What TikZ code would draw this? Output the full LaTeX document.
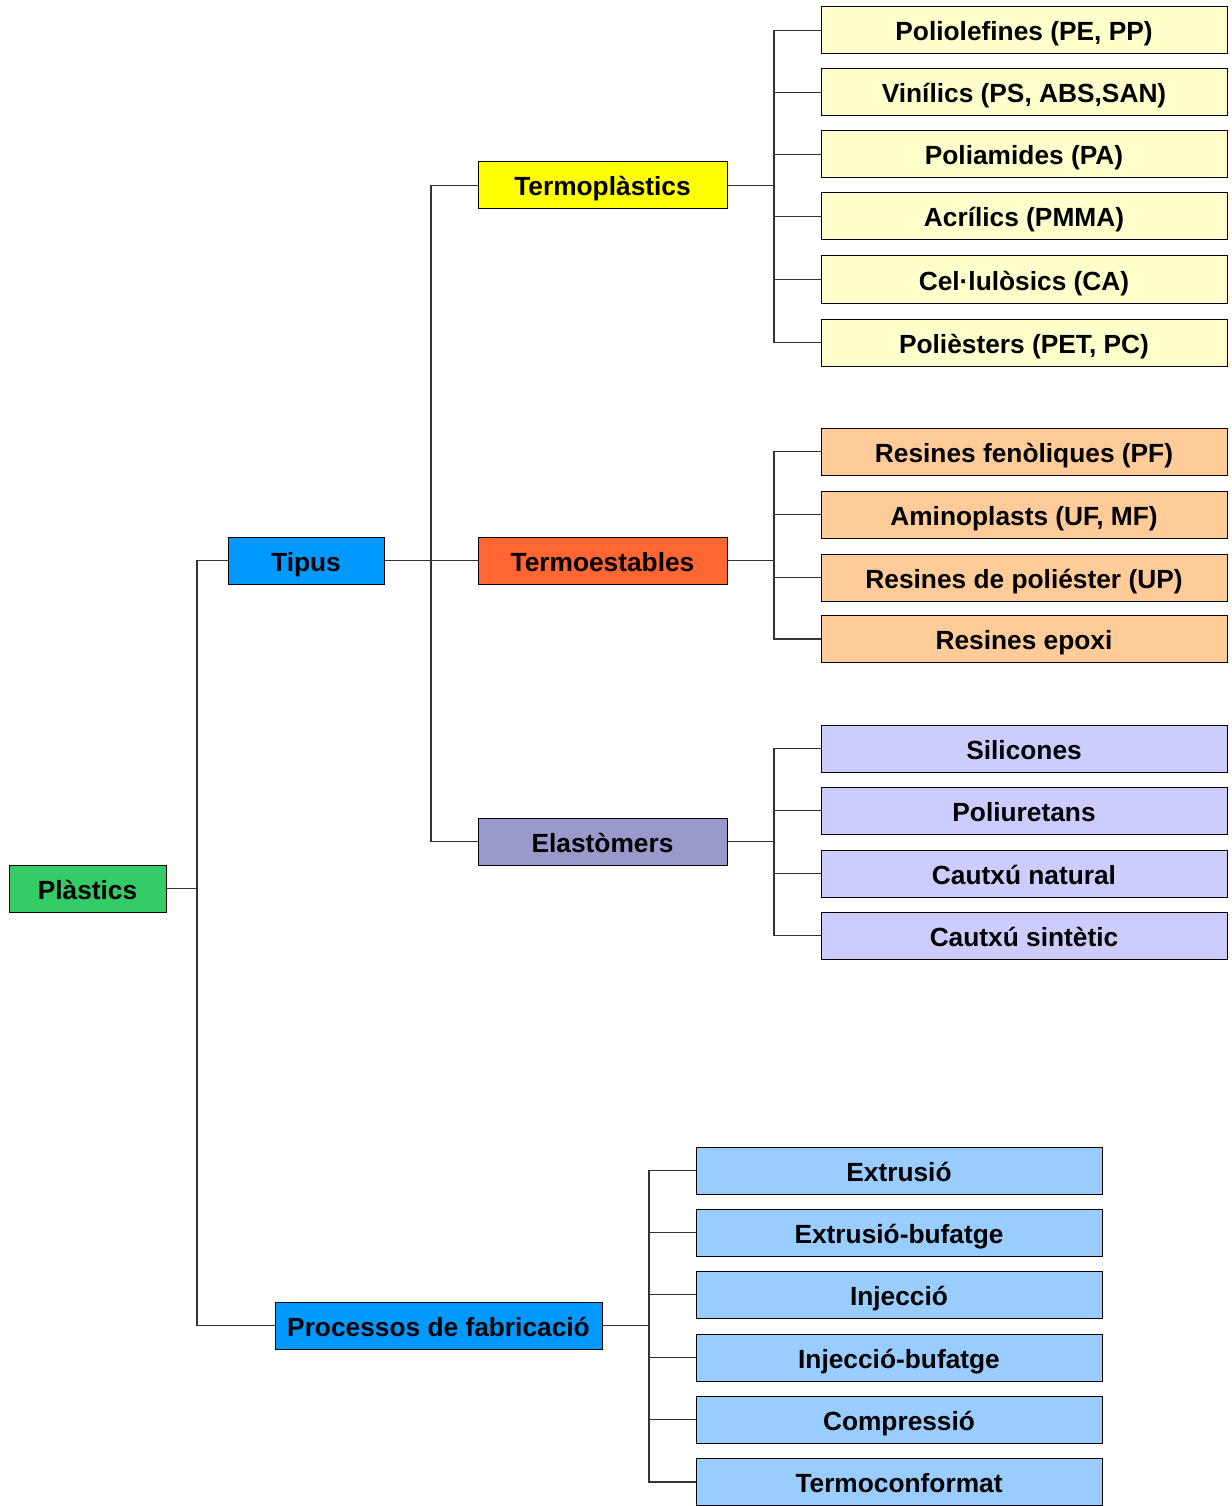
\documentclass[tikz,border=0pt]{standalone}
\usepackage{fontspec}
\setmainfont{Liberation Sans}
\definecolor{cgreen}{HTML}{33CC66}
\definecolor{cblue}{HTML}{0099FF}
\definecolor{cyellow}{HTML}{FFFF00}
\definecolor{corange}{HTML}{FF6633}
\definecolor{cviolet}{HTML}{9999CC}
\definecolor{lyellow}{HTML}{FFFFCC}
\definecolor{lpeach}{HTML}{FFCC99}
\definecolor{llav}{HTML}{CCCCFF}
\definecolor{lblue}{HTML}{99CCFF}
\definecolor{linec}{HTML}{333333}
\begin{document}
\begin{tikzpicture}[x=1pt,y=-1pt,
  box/.style={draw=black,line width=1pt,rectangle,inner sep=0pt,minimum height=47pt,
    text height=21pt,text depth=0pt,
    font=\fontsize{26.3}{30}\selectfont\bfseries,text=black},
  leaf/.style={box,minimum width=406pt},
  mid/.style={box,minimum width=249pt},
  conn/.style={draw=linec,line width=1.1pt}]
\useasboundingbox (0,0) rectangle (1231,1506);
% level 0
\node[box,fill=cgreen,minimum width=157pt] (pl) at (87.5,888.5) {Plàstics};
% level 1
\node[box,fill=cblue,minimum width=156pt] (tip) at (306,560.5) {Tipus};
\node[box,fill=cblue,minimum width=327pt] (proc) at (438.5,1325.5) {Processos de fabricació};
% level 2
\node[mid,fill=cyellow] (tpl) at (602.5,185.5) {Termoplàstics};
\node[mid,fill=corange] (tes) at (602.5,560.5) {Termoestables};
\node[mid,fill=cviolet] (ela) at (602.5,841.5) {Elastòmers};
% leaves termoplastics
\node[leaf,fill=lyellow] (a1) at (1024,30.5) {Poliolefines (PE, PP)};
\node[leaf,fill=lyellow] (a2) at (1024,92.5) {Vinílics (PS, ABS,SAN)};
\node[leaf,fill=lyellow] (a3) at (1024,154.5) {Poliamides (PA)};
\node[leaf,fill=lyellow] (a4) at (1024,216.5) {Acrílics (PMMA)};
\node[leaf,fill=lyellow] (a5) at (1024,279.5) {Cel·lulòsics (CA)};
\node[leaf,fill=lyellow] (a6) at (1024,342.5) {Polièsters (PET, PC)};
% leaves termoestables
\node[leaf,fill=lpeach] (b1) at (1024,451.5) {Resines fenòliques (PF)};
\node[leaf,fill=lpeach] (b2) at (1024,514.5) {Aminoplasts (UF, MF)};
\node[leaf,fill=lpeach] (b3) at (1024,577.5) {Resines de poliéster (UP)};
\node[leaf,fill=lpeach] (b4) at (1024,639) {Resines epoxi};
% leaves elastomers
\node[leaf,fill=llav] (c1) at (1024,748.5) {Silicones};
\node[leaf,fill=llav] (c2) at (1024,810.5) {Poliuretans};
\node[leaf,fill=llav] (c3) at (1024,873.5) {Cautxú natural};
\node[leaf,fill=llav] (c4) at (1024,935.5) {Cautxú sintètic};
% leaves processos
\node[leaf,fill=lblue] (d1) at (899,1170.5) {Extrusió};
\node[leaf,fill=lblue] (d2) at (899,1232.5) {Extrusió-bufatge};
\node[leaf,fill=lblue] (d3) at (899,1294.5) {Injecció};
\node[leaf,fill=lblue] (d4) at (899,1357.5) {Injecció-bufatge};
\node[leaf,fill=lblue] (d5) at (899,1419.5) {Compressió};
\node[leaf,fill=lblue] (d6) at (899,1482) {Termoconformat};
% junction coordinates
\coordinate (j0) at (197,0);
\coordinate (j1) at (431,0);
\coordinate (j2) at (774,0);
\coordinate (j3) at (649,0);
% connectors
\foreach \t in {tip,proc}
  \draw[conn] (pl.east) -- (pl.east -| j0) |- (\t.west);
\foreach \t in {tpl,tes,ela}
  \draw[conn] (tip.east) -- (tip.east -| j1) |- (\t.west);
\foreach \t in {a1,a2,a3,a4,a5,a6}
  \draw[conn] (tpl.east) -- (tpl.east -| j2) |- (\t.west);
\foreach \t in {b1,b2,b3,b4}
  \draw[conn] (tes.east) -- (tes.east -| j2) |- (\t.west);
\foreach \t in {c1,c2,c3,c4}
  \draw[conn] (ela.east) -- (ela.east -| j2) |- (\t.west);
\foreach \t in {d1,d2,d3,d4,d5,d6}
  \draw[conn] (proc.east) -- (proc.east -| j3) |- (\t.west);
\end{tikzpicture}
\end{document}
